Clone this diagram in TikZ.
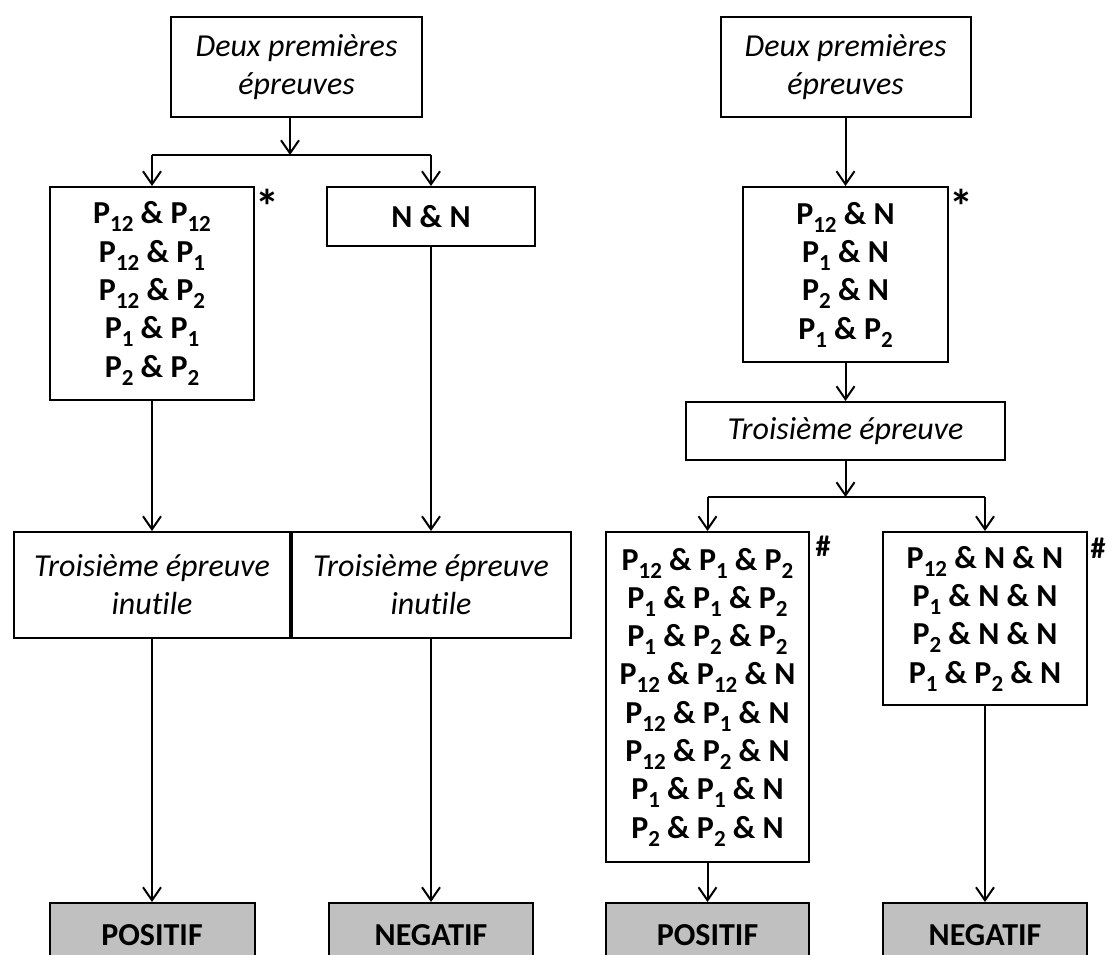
\documentclass[tikz,border=0pt]{standalone}
\usepackage{fontspec}
\setmainfont{Carlito}[Ligatures=NoCommon]
\usetikzlibrary{arrows.meta}
\definecolor{resgray}{RGB}{192,192,192}
\newcommand\sbs[1]{\raisebox{-8pt}{\fontsize{23}{23}\selectfont #1}}
\begin{document}
\begin{tikzpicture}[x=1pt,y=-1pt,
  box/.style={draw, line width=2pt, inner sep=0pt, align=center},
  sz/.style 2 args={minimum width=#1pt, minimum height=#2pt},
  itbox/.style={box, font=\fontsize{32}{38}\selectfont\itshape},
  bfbox/.style={box, font=\fontsize{32}{38.3}\selectfont\bfseries},
  resbox/.style={box, fill=resgray, font=\fontsize{32}{38}\selectfont\bfseries},
  conn/.style={line width=2pt},
  arr/.style={conn, -{Straight Barb[length=13pt,width=18pt,line width=2pt]}},
  note/.style={inner sep=0pt, anchor=base, font=\bfseries}
]
\useasboundingbox (0,0) rectangle (1107,954);

% ---------- left tree ----------
\node[itbox, sz={251}{100}] (topL) at (296.5,67) {Deux premières\\épreuves};
\node[bfbox, sz={204}{213}] (PL) at (152,293.5) {P\sbs{12} \& P\sbs{12}\\P\sbs{12} \& P\sbs{1}\\P\sbs{12} \& P\sbs{2}\\P\sbs{1} \& P\sbs{1}\\P\sbs{2} \& P\sbs{2}};
\node[bfbox, sz={208}{59}] (NN) at (431,216.5) {N \& N};
\node[note, font=\fontsize{48}{48}\selectfont\bfseries] (astL) at (267,223) {*};
\node[itbox, sz={276}{106}] (inutL) at (152,585) {Troisième épreuve\\inutile};
\node[itbox, sz={279}{106}] (inutR) at (431,585) {Troisième épreuve\\inutile};
\node[resbox, sz={205}{64}] (posL) at (152,935) {POSITIF};
\node[resbox, sz={204}{64}] (negL) at (431,935) {NEGATIF};

\coordinate (jL) at (290,155);
\draw[arr] (topL.south -| jL) -- (jL);
\draw[conn] (PL.north |- jL) -- (NN.north |- jL);
\draw[arr] (PL.north |- jL) -- (PL.north);
\draw[arr] (NN.north |- jL) -- (NN.north);
\draw[arr] (PL.south) -- (inutL.north);
\draw[arr] (NN.south) -- (inutR.north);
\draw[arr] (inutL.south) -- (posL.north);
\draw[arr] (inutR.south) -- (negL.north);

% ---------- right tree ----------
\node[itbox, sz={250}{100}] (topR) at (845.5,67) {Deux premières\\épreuves};
\node[bfbox, sz={205}{175}] (PR) at (845.5,274.5) {P\sbs{12} \& N\\P\sbs{1} \& N\\P\sbs{2} \& N\\P\sbs{1} \& P\sbs{2}};
\node[note, font=\fontsize{48}{48}\selectfont\bfseries] (astR) at (961,223) {*};
\node[itbox, sz={319}{58}] (T3) at (845.5,431) {Troisième épreuve};
\node[bfbox, sz={203}{330}] (HL) at (707.5,697) {P\sbs{12} \& P\sbs{1} \& P\sbs{2}\\P\sbs{1} \& P\sbs{1} \& P\sbs{2}\\P\sbs{1} \& P\sbs{2} \& P\sbs{2}\\P\sbs{12} \& P\sbs{12} \& N\\P\sbs{12} \& P\sbs{1} \& N\\P\sbs{12} \& P\sbs{2} \& N\\P\sbs{1} \& P\sbs{1} \& N\\P\sbs{2} \& P\sbs{2} \& N};
\node[bfbox, sz={204}{173}] (HR) at (985,618.5) {P\sbs{12} \& N \& N\\P\sbs{1} \& N \& N\\P\sbs{2} \& N \& N\\P\sbs{1} \& P\sbs{2} \& N};
\node[note, font=\fontsize{30}{30}\selectfont\bfseries] (hashL) at (823,556) {\#};
\node[note, font=\fontsize{30}{30}\selectfont\bfseries] (hashR) at (1098,558) {\#};
\node[resbox, sz={203}{64}] (posR) at (707.5,935) {POSITIF};
\node[resbox, sz={204}{64}] (negR) at (985,935) {NEGATIF};

\coordinate (jR) at (845.5,497);
\draw[arr] (topR.south) -- (PR.north);
\draw[arr] (PR.south) -- (T3.north);
\draw[arr] (T3.south) -- (jR);
\draw[conn] (HL.north |- jR) -- (HR.north |- jR);
\draw[arr] (HL.north |- jR) -- (HL.north);
\draw[arr] (HR.north |- jR) -- (HR.north);
\draw[arr] (HL.south) -- (posR.north);
\draw[arr] (HR.south) -- (negR.north);
\end{tikzpicture}
\end{document}
